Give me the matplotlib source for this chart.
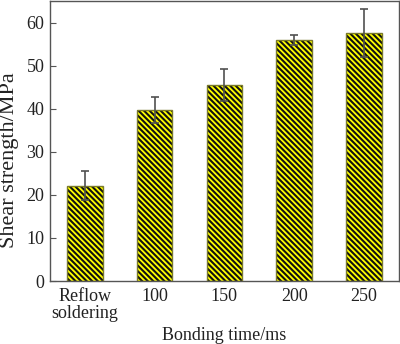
import matplotlib
matplotlib.use("Agg")
import matplotlib.pyplot as plt

categories = ["Reflow\nsoldering", "100", "150", "200", "250"]
strength = [22.1, 39.7, 45.5, 55.9, 57.6]
errors = [3.4, 3.0, 3.7, 1.2, 5.5]
yticks = [0, 10, 20, 30, 40, 50, 60]

plt.rcParams["font.family"] = ["Liberation Serif", "DejaVu Serif"]
plt.rcParams["hatch.linewidth"] = 1.5

fig = plt.figure(figsize=(4.0, 3.44), dpi=100)
ax = fig.add_axes([0.125, 0.183, 0.872, 0.814])

x = list(range(len(categories)))
width = 0.51
# hatched fill
ax.bar(x, strength, width=width, color="#ffff00", edgecolor="#111111",
       hatch="\\" * 6, linewidth=0, zorder=2)
# bar outlines
ax.bar(x, strength, width=width, fill=False, edgecolor="#7a7a2a",
       linewidth=1.0, zorder=3)
ax.errorbar(x, strength, yerr=errors, fmt="none", ecolor="#505050",
            elinewidth=1.2, capsize=2.6, capthick=1.2, zorder=4)

ax.set_xlim(-0.5, 4.5)
ax.set_ylim(0, 65)
ax.set_yticks(yticks)
ax.set_xticks(x)
ax.set_xticklabels(categories, linespacing=1.0)
ax.tick_params(direction="in", length=4, width=0.8, color="#555555",
               labelsize=13, labelcolor="#222222")
ax.tick_params(axis="x", pad=5)
ax.tick_params(axis="y", pad=4)
for s in ax.spines.values():
    s.set_color("#555555")
    s.set_linewidth(1.0)

ax.set_xlabel("Bonding time/ms", fontsize=13, color="#222222")
ax.set_ylabel("Shear strength/MPa", fontsize=16, color="#222222")
ax.xaxis.set_label_coords(0.5, -0.163)
ax.yaxis.set_label_coords(-0.088, 0.432)

fig.savefig("out.png", dpi=100)
